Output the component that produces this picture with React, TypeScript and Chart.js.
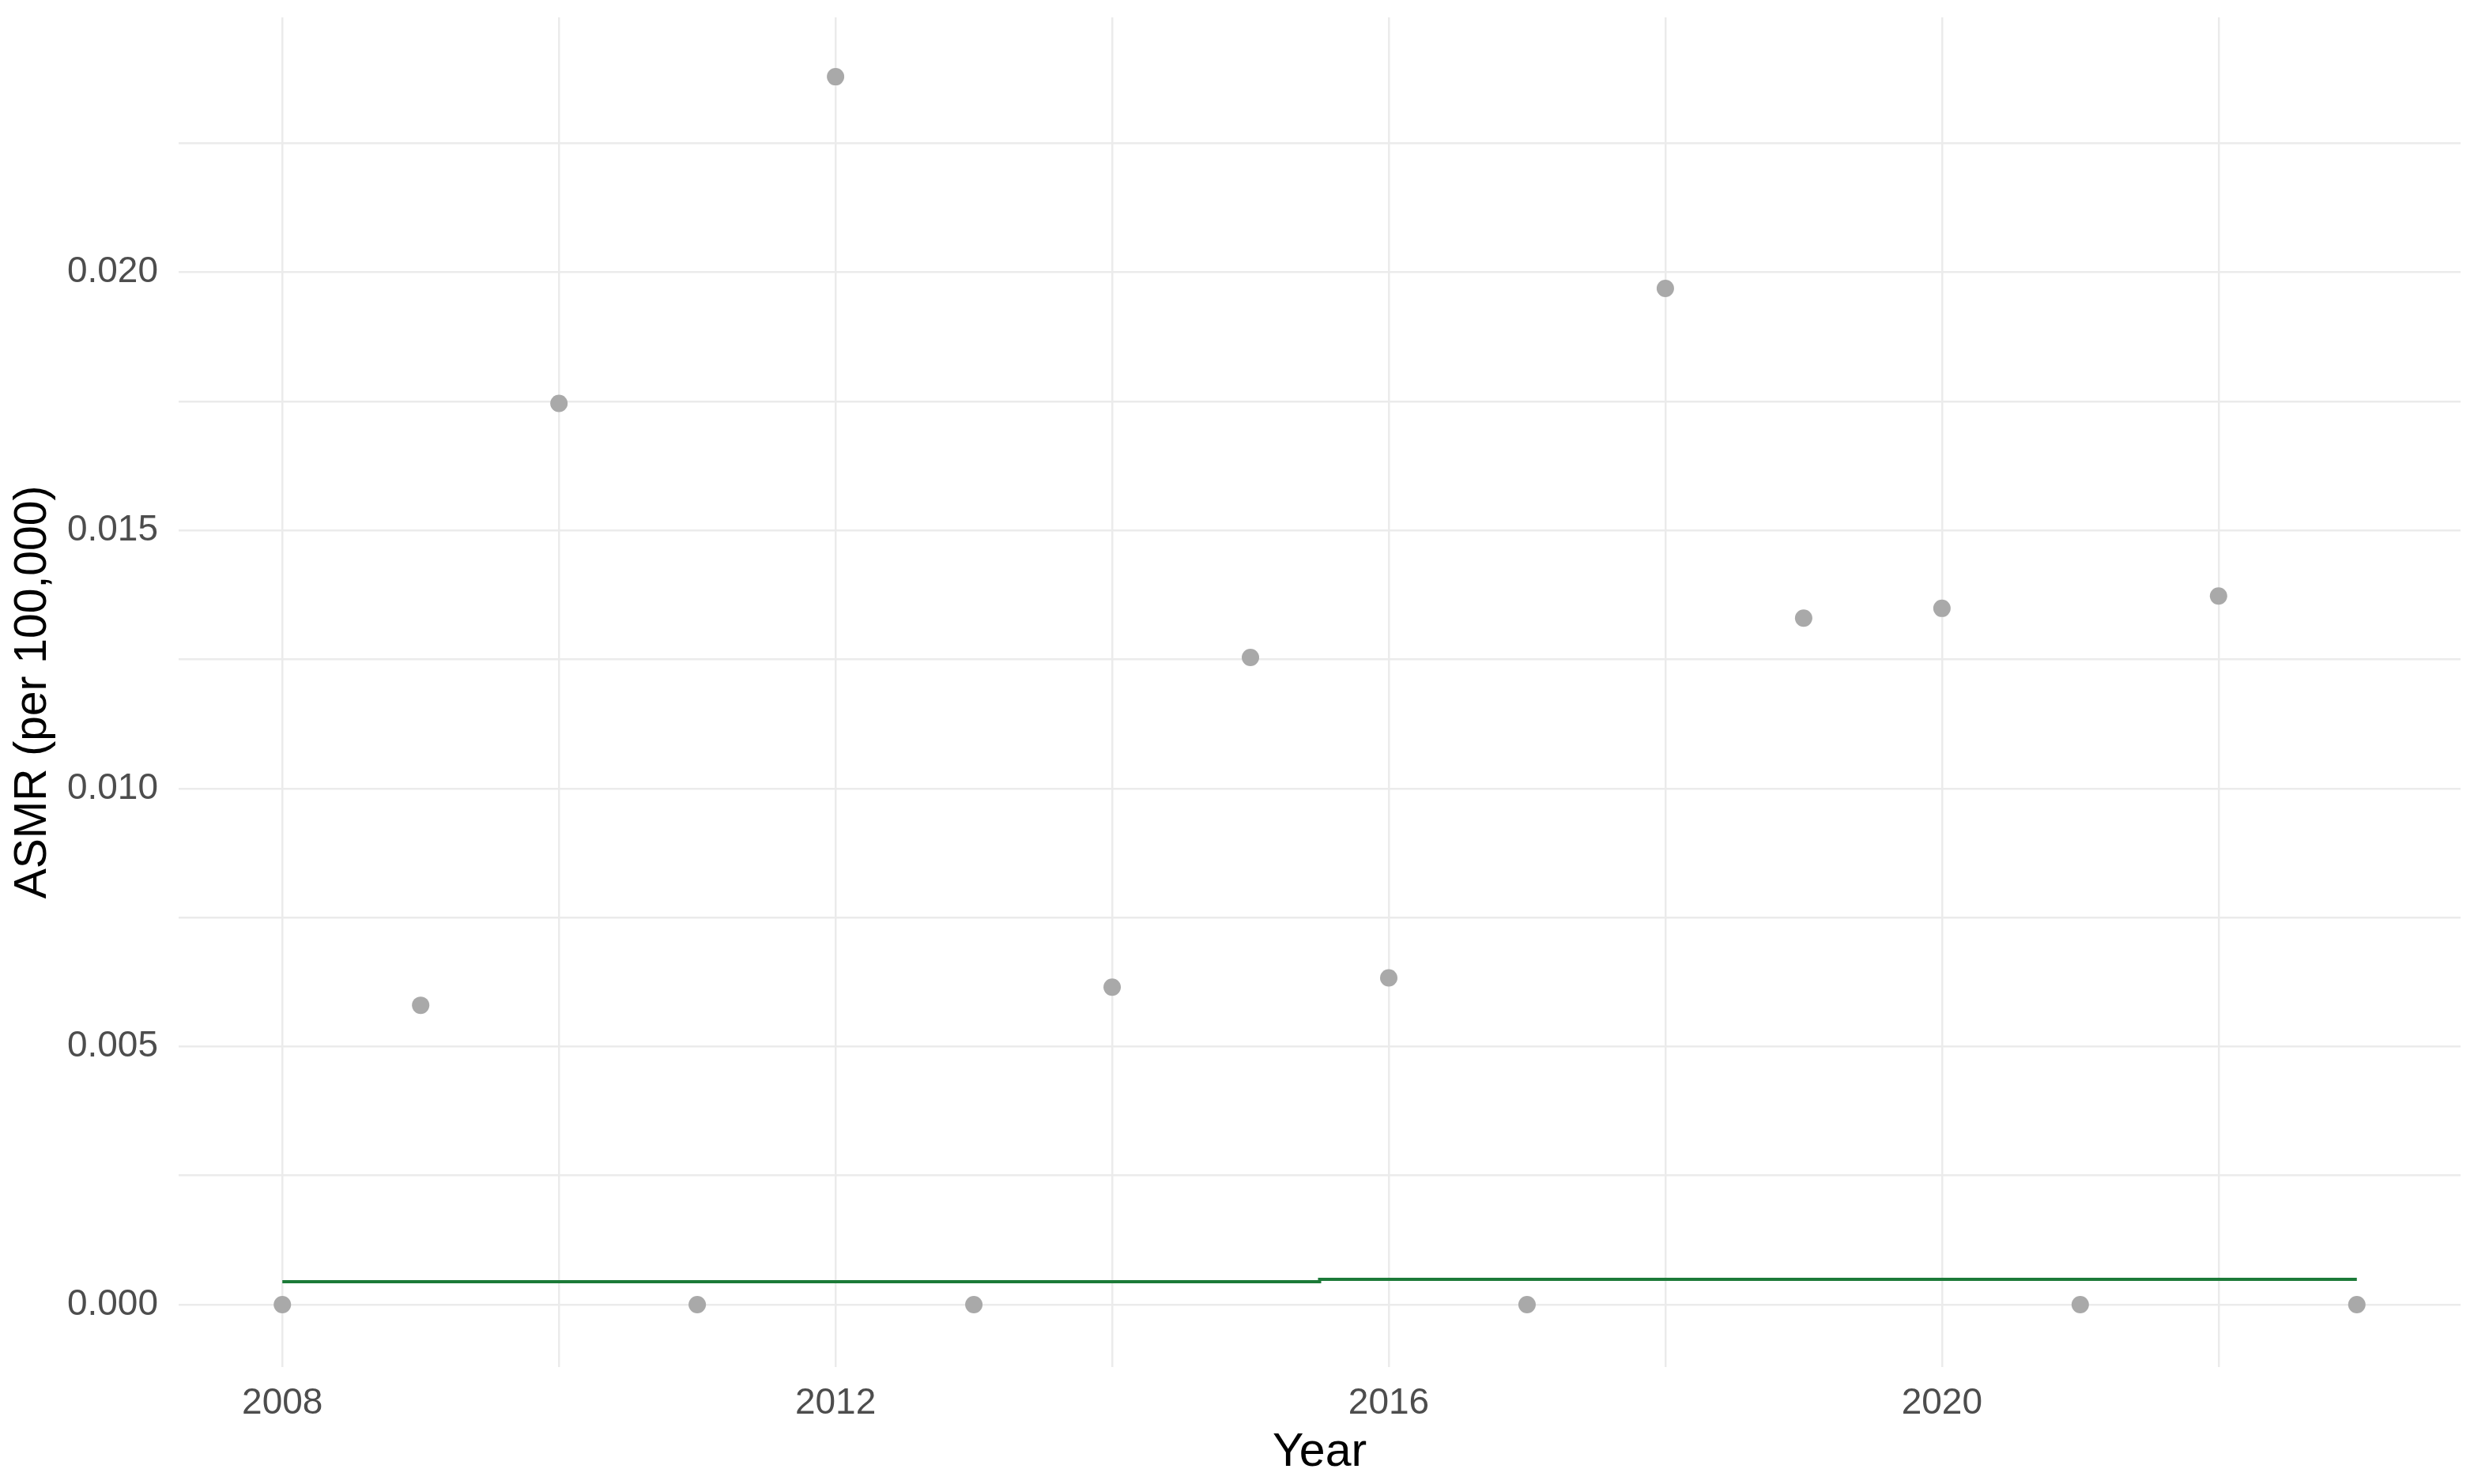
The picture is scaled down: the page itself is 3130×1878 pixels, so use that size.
import React, { useEffect, useRef } from "react";
import { Chart, registerables } from "chart.js";

Chart.register(...registerables);

// ---- data ----
const years = [2008, 2009, 2010, 2011, 2012, 2013, 2014, 2015, 2016, 2017, 2018, 2019, 2020, 2021, 2022, 2023];
const asmr = [0, 0.0058, 0.01746, 0, 0.02379, 0, 0.00615, 0.01254, 0.00633, 0, 0.01969, 0.0133, 0.01349, 0, 0.01373, 0];

const fitYears = [2008, 2015.5, 2015.5, 2023];
const fitValues = [0.000444, 0.000444, 0.00049, 0.00049];

const xTicks = [2008, 2010, 2012, 2014, 2016, 2018, 2020, 2022];
const xLabels = [2008, 2012, 2016, 2020];
const yTicks = [0, 0.0025, 0.005, 0.0075, 0.01, 0.0125, 0.015, 0.0175, 0.02, 0.0225];
const yLabels = [0, 0.005, 0.01, 0.015, 0.02];

const FONT = "'Liberation Sans', Arial, sans-serif";

export default function App() {
  const ref = useRef<HTMLCanvasElement | null>(null);

  useEffect(() => {
    document.body.style.margin = "0";
    const canvas = ref.current;
    if (!canvas) return;
    const chart = new Chart(canvas, {
      type: "scatter",
      data: {
        datasets: [
          {
            type: "scatter",
            data: years.map((x, i) => ({ x, y: asmr[i] })),
            backgroundColor: "#a9a9a9",
            borderColor: "#a9a9a9",
            borderWidth: 0,
            pointRadius: 11,
            pointHoverRadius: 11,
            order: 2,
          },
          {
            type: "line",
            data: fitYears.map((x, i) => ({ x, y: fitValues[i] })),
            borderColor: "#1c7a38",
            borderWidth: 4,
            pointRadius: 0,
            fill: false,
            tension: 0,
            order: 1,
          } as any,
        ],
      },
      options: {
        responsive: false,
        animation: false,
        devicePixelRatio: 1,
        layout: { padding: { left: 0, right: 17, top: 22, bottom: 0 } },
        plugins: { legend: { display: false }, tooltip: { enabled: false } },
        scales: {
          x: {
            type: "linear",
            min: 2007.25,
            max: 2023.75,
            afterBuildTicks: (scale: any) => {
              scale.ticks = xTicks.map((v) => ({ value: v }));
            },
            afterFit: (scale: any) => {
              scale.height = 148;
              scale.paddingLeft = 0;
              scale.paddingRight = 0;
              scale.paddingTop = 0;
              scale.paddingBottom = 0;
            },
            ticks: {
              autoSkip: false,
              maxRotation: 0,
              padding: 19,
              color: "#4d4d4d",
              font: { family: FONT, size: 46 },
              callback: (v: any) => (xLabels.includes(Number(v)) ? String(v) : ""),
            },
            grid: { color: "#ebebeb", lineWidth: 2.5, drawTicks: false },
            border: { display: false },
            title: {
              display: true,
              text: "Year",
              color: "#000000",
              font: { family: FONT, size: 59 },
              padding: { top: 0, bottom: 4 },
            },
          },
          y: {
            type: "linear",
            min: -0.00121,
            max: 0.02494,
            afterBuildTicks: (scale: any) => {
              scale.ticks = yTicks.map((v) => ({ value: v }));
            },
            afterFit: (scale: any) => {
              scale.width = 226;
              scale.paddingLeft = 0;
              scale.paddingRight = 0;
              scale.paddingTop = 0;
              scale.paddingBottom = 0;
            },
            ticks: {
              padding: 26,
              color: "#4d4d4d",
              font: { family: FONT, size: 46 },
              callback: (v: any) => {
                const n = Number(v);
                return yLabels.some((l) => Math.abs(l - n) < 1e-9) ? n.toFixed(3) : "";
              },
            },
            grid: { color: "#ebebeb", lineWidth: 2.5, drawTicks: false },
            border: { display: false },
            title: {
              display: true,
              text: "ASMR (per 100,000)",
              color: "#000000",
              font: { family: FONT, size: 57 },
              padding: { top: 8, bottom: 0 },
            },
          },
        },
      },
    });
    return () => chart.destroy();
  }, []);

  return (
    <div style={{ width: 3130, height: 1878, background: "#ffffff" }}>
      <canvas ref={ref} width={3130} height={1878} style={{ display: "block" }} />
    </div>
  );
}
